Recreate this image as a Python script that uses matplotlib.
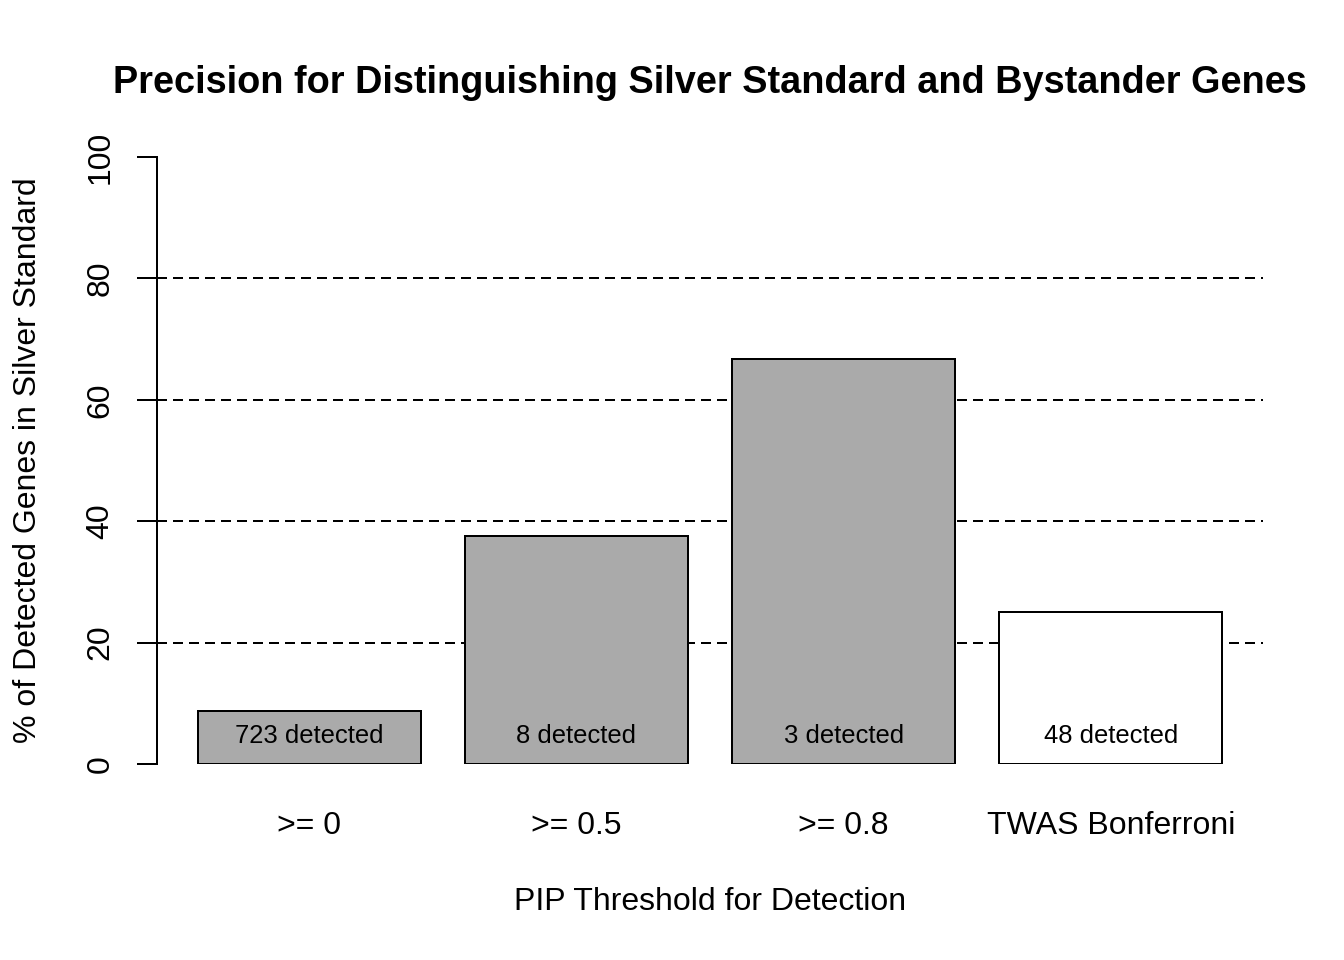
import matplotlib
matplotlib.use("Agg")
import matplotlib.pyplot as plt

categories = [">= 0", ">= 0.5", ">= 0.8", "TWAS Bonferroni"]
values = [63 / 723 * 100, 3 / 8 * 100, 2 / 3 * 100, 12 / 48 * 100]
detected = [723, 8, 3, 48]
colors = ["#AAAAAA", "#AAAAAA", "#AAAAAA", "#FFFFFF"]
yticks = [0, 20, 40, 60, 80, 100]
gridlines = [20, 40, 60, 80]

plt.rcParams['font.family'] = ['Liberation Sans', 'DejaVu Sans']

W, H = 1344, 960
fig = plt.figure(figsize=(7, 5), dpi=192)
left, right = 157 / W, 1263 / W
bottom, top = 1 - 764 / H, 1 - 157 / H
ax = fig.add_axes([left, bottom, right - left, top - bottom])

x = [0.7 + 1.2 * i for i in range(len(categories))]
ax.set_xlim(0.016, 4.984)
ax.set_ylim(0, 100)

for g in gridlines:
    ax.axhline(g, color="black", lw=0.75, linestyle=(0, (5, 3)), zorder=1)

ax.bar(x, values, width=1.0, color=colors, edgecolor="black", linewidth=0.75, zorder=2)
for xi, d in zip(x, detected):
    ax.text(xi, 4.6, f"{d} detected", ha="center", va="center", fontsize=9.6, zorder=3)

for s in ["top", "right", "bottom"]:
    ax.spines[s].set_visible(False)
ax.spines["left"].set_linewidth(0.75)
ax.spines["left"].set_bounds(0, 100)
ax.set_yticks(yticks)
ax.set_yticklabels([str(t) for t in yticks], rotation=90, va="center", fontsize=12)
ax.tick_params(axis="y", length=7.5, width=0.75, pad=8)
ax.set_xticks(x)
ax.set_xticklabels(categories, fontsize=12)
ax.tick_params(axis="x", length=0, pad=17.5)

ax.set_xlabel("PIP Threshold for Detection", fontsize=12, labelpad=17.5)
ax.set_ylabel("% of Detected Genes in Silver Standard", fontsize=12, labelpad=16)
ax.set_title("Precision for Distinguishing Silver Standard and Bystander Genes",
             fontsize=14.2, fontweight="bold", pad=24)

fig.savefig("out.png", dpi=192)
